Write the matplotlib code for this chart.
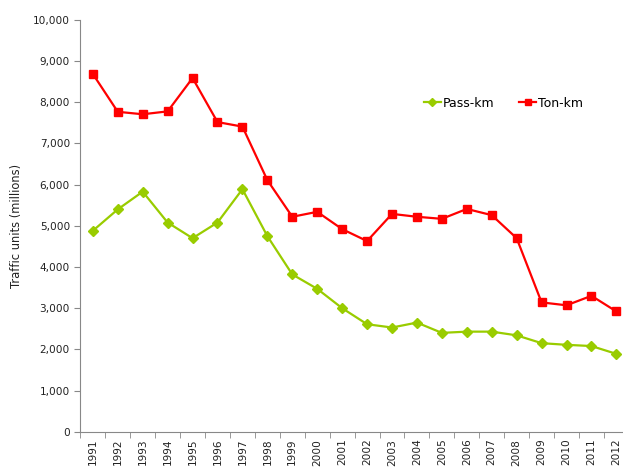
import numpy as np
import matplotlib
matplotlib.use("Agg")
import matplotlib.pyplot as plt
from matplotlib.ticker import FuncFormatter

years = [str(y) for y in range(1991, 2013)]
pass_km = [4880, 5400, 5830, 5080, 4700, 5080, 5890, 4750, 3820, 3470, 3000,
           2610, 2530, 2650, 2400, 2430, 2430, 2340, 2150, 2110, 2080, 1890]
ton_km = [8690, 7770, 7710, 7780, 8590, 7520, 7410, 6110, 5220, 5340, 4920,
          4630, 5290, 5220, 5170, 5410, 5260, 4700, 3140, 3070, 3300, 2920]

plt.rcParams['font.family'] = 'DejaVu Sans'
fig = plt.figure(figsize=(6.23, 4.68), dpi=100)
ax = fig.add_axes([0.129, 0.0776, 0.8804, 0.8797])

x = np.arange(len(years))
ax.plot(x, pass_km, color='#99CC00', marker='D', markersize=5.5, linewidth=1.6, label='Pass-km')
ax.plot(x, ton_km, color='#FF0000', marker='s', markersize=5.2, linewidth=1.6, label='Ton-km')

ax.set_xlim(-0.5, len(years) - 0.5)
ax.set_ylim(0, 10000)
ax.set_yticks(np.arange(0, 10001, 1000))
ax.yaxis.set_major_formatter(FuncFormatter(lambda v, p: f"{int(v):,}"))
ax.set_xticks(x)
ax.set_xticklabels(years, rotation=90)
ax.set_xticks(np.arange(-0.5, len(years), 1), minor=True)
ax.tick_params(axis='x', which='major', length=0, labelsize=7.6, pad=5, labelcolor='#222222')
ax.tick_params(axis='x', which='minor', length=4, color='#888888')
ax.tick_params(axis='y', length=4, color='#888888', labelsize=7.6, labelcolor='#222222')

for s in ['top', 'right']:
    ax.spines[s].set_visible(False)
for s in ['left', 'bottom']:
    ax.spines[s].set_color('#888888')

ax.set_ylabel('Traffic units (millions)', fontsize=8.3, labelpad=7, color='#222222')

ax.legend(loc='center', bbox_to_anchor=(0.771, 0.798), ncol=2, frameon=False,
          fontsize=9, handlelength=1.36, columnspacing=2.0, handletextpad=0.15,
          markerscale=0.75)

fig.savefig('out.png', dpi=100)
